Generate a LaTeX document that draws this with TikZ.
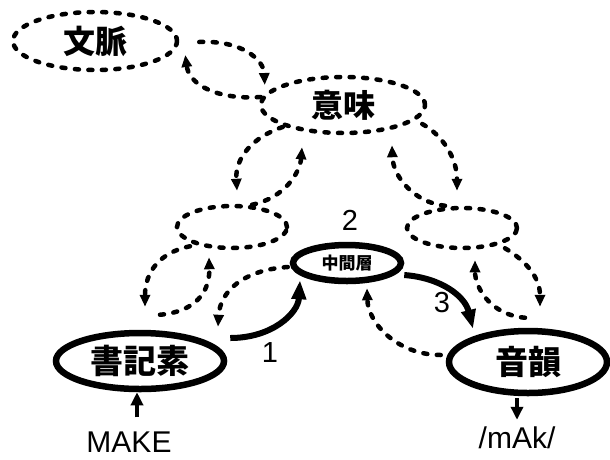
\documentclass[tikz,border=0pt]{standalone}
\usepackage{fontspec}
\setmainfont{Liberation Sans}
\newfontfamily\jp{Noto Sans CJK JP}
\usetikzlibrary{arrows.meta,shapes.geometric,calc}
\begin{document}
\begin{tikzpicture}[x=1pt,y=-1pt,
  dnode/.style={ellipse, draw, line width=4.5pt, dash pattern=on 4pt off 9.5pt, line cap=round, inner sep=0pt},
  snode/.style={ellipse, draw, line width=6.5pt, inner sep=0pt},
  dar/.style={line width=4.5pt, dash pattern=on 4pt off 9.5pt, line cap=round, -{Triangle[length=12pt,width=10pt]}},
  sar/.style={line width=6pt, -{Triangle[length=19pt,width=14pt]}},
  tar/.style={line width=4.5pt, -{Triangle[length=13pt,width=12pt]}},
  jpbig/.style={font=\jp\bfseries\fontsize{33}{35}\selectfont},
  jpmid/.style={font=\jp\bfseries\fontsize{32}{34}\selectfont},
  jpsmall/.style={font=\jp\bfseries\fontsize{17}{19}\selectfont},
  lat/.style={font=\fontsize{30}{32}\selectfont, inner sep=0pt},
  num/.style={font=\fontsize{29}{31}\selectfont, inner sep=0pt}
]
\useasboundingbox (0,0) rectangle (610,459);
% nodes
\node[dnode, jpmid, minimum width=164pt, minimum height=58pt] (ctx) at (95,41) {文脈};
\node[dnode, jpmid, minimum width=164pt, minimum height=56pt] (sem) at (343,105) {意味};
\node[dnode, minimum width=110pt, minimum height=42pt] (L) at (232,227) {};
\node[dnode, minimum width=110pt, minimum height=40pt] (R) at (462,228) {};
\node[snode, jpsmall, minimum width=108pt, minimum height=36pt] (mid) at (347,263) {中間層};
\node[snode, jpbig, minimum width=168pt, minimum height=56pt] (ort) at (140,361) {書記素};
\node[snode, jpbig, minimum width=158pt, minimum height=62pt] (pho) at (528,362) {音韻};
\node[lat] (make) at (129,442) {MAKE};
\node[lat] (mak) at (517,438) {/mAk/};
\node[num] (n1) at (270,353) {1};
\node[num] (n2) at (350,220) {2};
\node[num] (n3) at (442,303) {3};
% dashed connectors
\draw[dar] ($(ctx.east)+(20,1)$) .. controls +(43,-2) and +(-1,-25) .. ($(sem.west)+(6,-20)$);
\draw[dar] ($(sem.west)+(2,-8)$) .. controls +(-43,3) and +(4,30) .. ($(ctx.east)+(6,14)$);
\draw[dar] ($(sem.west)+(24,22)$) .. controls +(-30,10) and +(-2,-33) .. ($(L.north)+(5,-13)$);
\draw[dar] ($(L.north)+(20,1)$) .. controls +(33,-7) and +(-2,25) .. ($(sem.south)+(-41,12)$);
\draw[dar] ($(sem.east)+(-5,19)$) .. controls +(20,11) and +(0,-33) .. ($(R.north)+(-5,-15)$);
\draw[dar] ($(R.north)+(-17,0)$) .. controls +(-30,-3) and +(1,32) .. ($(sem.south)+(49,10)$);
\draw[dar] ($(L.south)+(-42,-4)$) .. controls +(-30,6) and +(0,-35) .. ($(ort.north)+(5,-23)$);
\draw[dar] ($(ort.north)+(20,-15)$) .. controls +(35,-3) and +(1,35) .. ($(L.south)+(-23,7)$);
\draw[dar] ($(mid.west)+(-2,4)$) .. controls +(-45,3) and +(2,-35) .. ($(ort.north)+(78,-3)$);
\draw[dar] ($(pho.west)+(-5,-7)$) .. controls +(-43,0) and +(1,35) .. ($(mid.south)+(20,4)$);
\draw[dar] ($(pho.north)+(-3,-10)$) .. controls +(-35,-3) and +(0,27) .. ($(R.south)+(13,10)$);
\draw[dar] ($(R.south)+(43,-2)$) .. controls +(20,12) and +(0,-30) .. ($(pho.north)+(12,-21)$);
% solid connectors
\draw[sar] ($(ort.east)+(3,-23)$) .. controls +(42,0) and +(-2,33) .. ($(mid.south)+(-47,-4)$);
\draw[sar] ($(mid.east)+(0,12)$) .. controls +(38,3) and +(-8,-32) .. ($(pho.north)+(-55,1)$);
\draw[tar] ($(make.north)+(8,-14)$) -- ($(make.north |- ort.south)+(8,0)$);
\draw[tar] ($(pho.south)+(-11,2)$) -- ($(mak.north)+(0,-7)$);
\end{tikzpicture}
\end{document}
